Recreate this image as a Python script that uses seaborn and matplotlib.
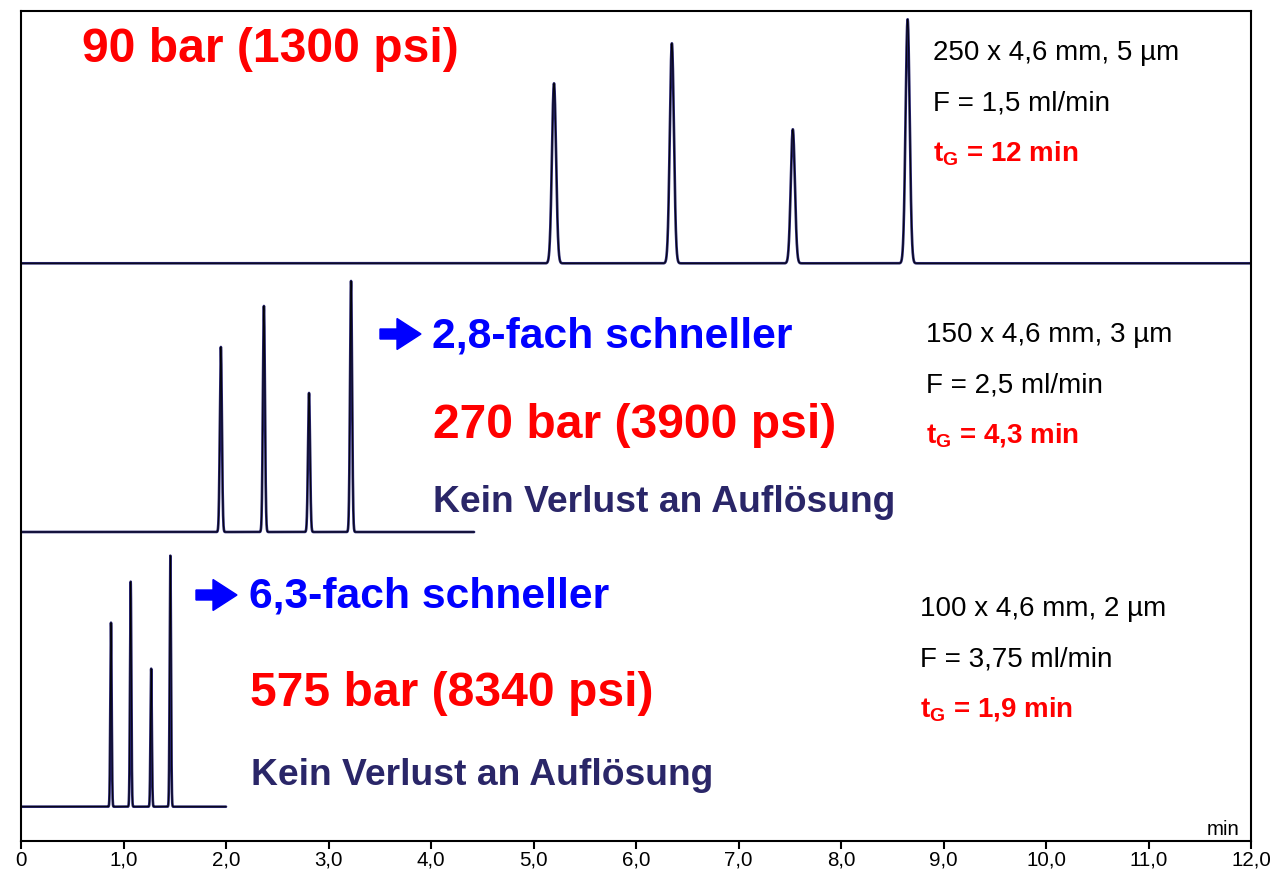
import numpy as np
import pandas as pd
import matplotlib
matplotlib.use("Agg")
import matplotlib.pyplot as plt
from matplotlib.patches import FancyArrow
from matplotlib.transforms import IdentityTransform
from matplotlib import font_manager
import seaborn as sns

sns.set_theme(style="white")
plt.rcParams["font.family"] = ["Liberation Sans", "DejaVu Sans"]
plt.rcParams["mathtext.fontset"] = "custom"
plt.rcParams["mathtext.rm"] = "Liberation Sans"
plt.rcParams["mathtext.bf"] = "Liberation Sans:bold"

# ---------------- data ----------------
runs = ["250 x 4,6 mm, 5 µm", "150 x 4,6 mm, 3 µm", "100 x 4,6 mm, 2 µm"]
run_end_min = [12.0, 4.42, 2.0]
run_offset = [577.7, 309.0, 34.3]
peak_rt_1 = [5.20, 6.35, 7.53, 8.65]
peak_h_1 = [180, 220, 134, 244]
peak_rt_2 = [1.95, 2.37, 2.81, 3.22]
peak_h_2 = [185, 226, 139, 251]
peak_rt_3 = [0.878, 1.07, 1.27, 1.457]
peak_h_3 = [184, 225, 138, 251]
peak_sigma = [0.020, 0.010, 0.0065]
sample_step = [0.001, 0.0005, 0.0002]

xticks = [0, 1, 2, 3, 4, 5, 6, 7, 8, 9, 10, 11, 12]
xticklabels = ["0", "1,0", "2,0", "3,0", "4,0", "5,0", "6,0", "7,0", "8,0",
               "9,0", "10,0", "11,0", "12,0"]

col_lines = ["250 x 4,6 mm, 5 µm", "150 x 4,6 mm, 3 µm", "100 x 4,6 mm, 2 µm"]
flow_lines = ["F = 1,5 ml/min", "F = 2,5 ml/min", "F = 3,75 ml/min"]
tg_lines = [r"$\mathbf{t}_\mathbf{G}$ = 12 min", r"$\mathbf{t}_\mathbf{G}$ = 4,3 min",
            r"$\mathbf{t}_\mathbf{G}$ = 1,9 min"]
pressure_lines = ["90 bar (1300 psi)", "270 bar (3900 psi)", "575 bar (8340 psi)"]
speed_lines = ["2,8-fach schneller", "6,3-fach schneller"]
resolution_line = "Kein Verlust an Auflösung"

# ---------------- build traces ----------------
peak_rts = [peak_rt_1, peak_rt_2, peak_rt_3]
peak_hs = [peak_h_1, peak_h_2, peak_h_3]
frames = []
for i, run in enumerate(runs):
    t = np.arange(0, run_end_min[i] + 1e-9, sample_step[i])
    sig = np.full_like(t, run_offset[i])
    for rt, h in zip(peak_rts[i], peak_hs[i]):
        sig += h * np.exp(-0.5 * ((t - rt) / peak_sigma[i]) ** 2)
    frames.append(pd.DataFrame({"time": t, "signal": sig, "run": run}))
df = pd.concat(frames, ignore_index=True)

# narrow font for the axis (as in the reference, which is horizontally compressed)
names = {f.name for f in font_manager.fontManager.ttflist}
axis_family = ["Liberation Sans Narrow"] if "Liberation Sans Narrow" in names else ["Liberation Sans"]
axis_size = 17.6 if "Liberation Sans Narrow" in names else 14.8

# ---------------- figure ----------------
W, H = 1270, 875
fig = plt.figure(figsize=(W / 100, H / 100), dpi=100)
ax = fig.add_axes([21 / W, 34 / H, 1230 / W, 830 / H])

sns.lineplot(data=df, x="time", y="signal", hue="run",
             palette={r: "#25226a" for r in runs}, estimator=None, sort=False,
             legend=False, linewidth=1.9, ax=ax)
sns.lineplot(data=df, x="time", y="signal", hue="run",
             palette={r: "#000000" for r in runs}, estimator=None, sort=False,
             legend=False, linewidth=0.6, ax=ax)

ax.set_xlim(0, 12)
ax.set_ylim(0, 830)
ax.set_xlabel("")
ax.set_ylabel("")
ax.set_yticks([])
ax.set_xticks(xticks)
ax.set_xticklabels(xticklabels, fontfamily=axis_family, fontsize=axis_size)
ax.tick_params(axis="x", direction="out", length=6, width=1.5,
               pad=1, colors="black", bottom=True)
for s in ax.spines.values():
    s.set_visible(True)
    s.set_color("black")
    s.set_linewidth(1.5)

def ftext(x, y, s, **kw):
    fig.text(x / W, 1 - y / H, s, va="baseline", ha="left", **kw)

fig.text(1240 / W, 1 - 835 / H, "min", fontsize=axis_size, fontfamily=axis_family,
         color="black", ha="right", va="baseline")

red = "#ff0000"
blue = "#0000ff"
navy = "#2a2668"

# pressure headlines
ftext(82, 62, pressure_lines[0], fontsize=34.6, fontweight="bold", color=red)
ftext(433, 437.5, pressure_lines[1], fontsize=34.6, fontweight="bold", color=red)
ftext(250, 706.5, pressure_lines[2], fontsize=34.6, fontweight="bold", color=red)

# speed lines
ftext(432, 348, speed_lines[0], fontsize=30.7, fontweight="bold", color=blue)
ftext(249, 607, speed_lines[1], fontsize=30.7, fontweight="bold", color=blue)

# resolution lines
ftext(433, 512, resolution_line, fontsize=26.8, fontweight="bold", color=navy)
ftext(251, 785, resolution_line, fontsize=26.8, fontweight="bold", color=navy)

# arrows
for (x0, yc) in [(380, 334), (196, 595)]:
    arr = FancyArrow(x0, H - yc, 41, 0, width=10, head_width=31, head_length=24,
                     length_includes_head=True, color=blue, transform=IdentityTransform())
    fig.patches.append(arr)

# conditions
cond_x = [933, 926, 920]
cond_y = [60, 342, 616]
for i in range(3):
    ftext(cond_x[i], cond_y[i], col_lines[i], fontsize=20, color="black")
    ftext(cond_x[i], cond_y[i] + 50.5, flow_lines[i], fontsize=20, color="black")
    ftext(cond_x[i], cond_y[i] + 101, tg_lines[i], fontsize=20, fontweight="bold", color=red)

fig.savefig("out.png", dpi=100)
